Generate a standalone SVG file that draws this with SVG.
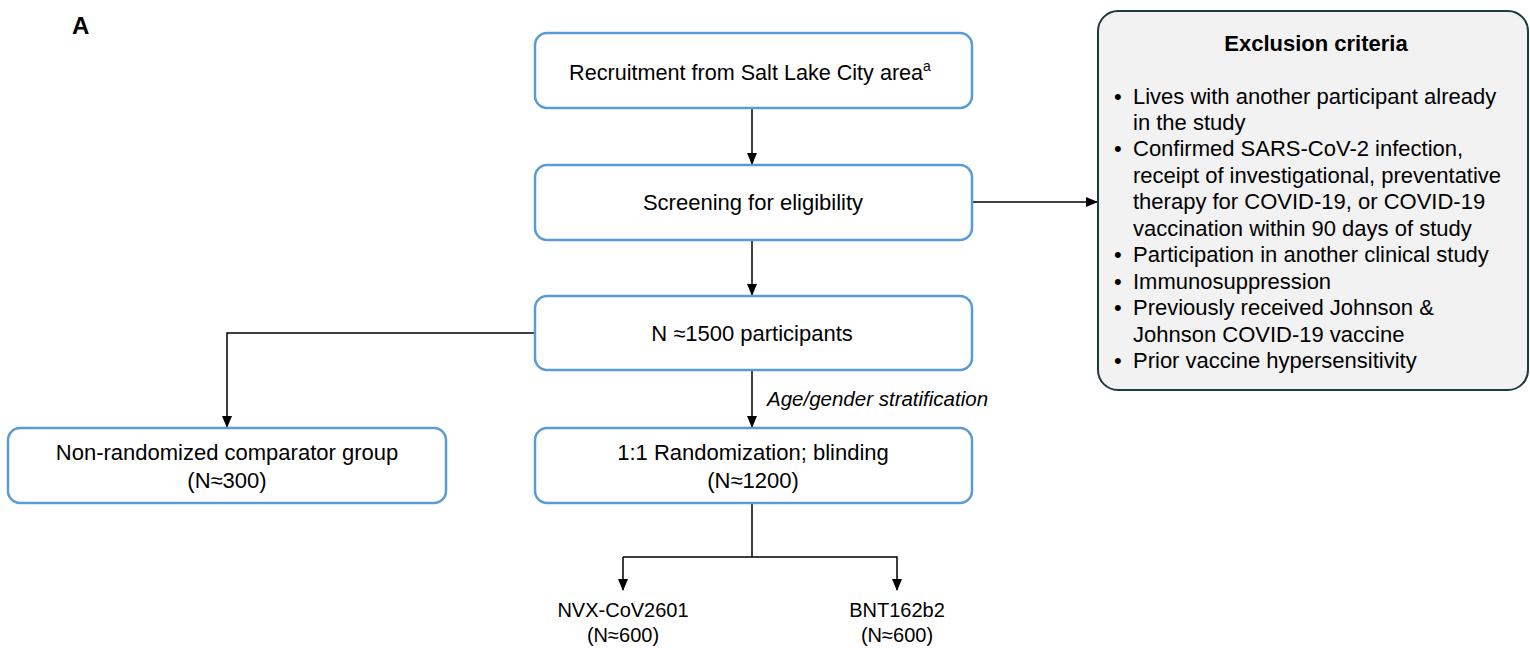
<svg xmlns="http://www.w3.org/2000/svg" width="1530" height="648" viewBox="0 0 1530 648">
<style>
text{font-family:"Liberation Sans",Arial,sans-serif;fill:#000;font-size:22px}
.box{fill:#fff;stroke:#5B9BD5;stroke-width:2.5}
.c{text-anchor:middle}
.ln{fill:none;stroke:#000;stroke-width:1.5}
.sm{font-size:20px}
</style>
<defs>
<marker id="ah" markerWidth="12" markerHeight="12" refX="11" refY="6" orient="auto" markerUnits="userSpaceOnUse">
<path d="M0,1 L12,6 L0,11 z" fill="#000"/>
</marker>
</defs>
<rect width="1530" height="648" fill="#fff"/>
<text x="72" y="34" style="font-weight:bold;font-size:24px">A</text>
<g id="connectors">
<line class="ln" x1="752" y1="108" x2="752" y2="164" marker-end="url(#ah)"/>
<line class="ln" x1="752" y1="240" x2="752" y2="295" marker-end="url(#ah)"/>
<line class="ln" x1="972" y1="202" x2="1097" y2="202" marker-end="url(#ah)"/>
<polyline class="ln" points="535,333 227,333 227,427" marker-end="url(#ah)"/>
<line class="ln" x1="752" y1="370" x2="752" y2="427" marker-end="url(#ah)"/>
<polyline class="ln" points="752,503 752,557"/>
<polyline class="ln" points="623,557 897,557 897,590" marker-end="url(#ah)"/>
<line class="ln" x1="623" y1="557" x2="623" y2="590" marker-end="url(#ah)"/>
<text x="767" y="406" style="font-style:italic;font-size:20.5px">Age/gender stratification</text>
</g>
<g id="recruit">
<rect class="box" x="535" y="33" width="437" height="75" rx="12"/>
<text class="c" x="750" y="80" style="font-size:21.6px">Recruitment from Salt Lake City area<tspan dy="-9" style="font-size:14px">a</tspan></text>
</g>
<g id="screening">
<rect class="box" x="535" y="165" width="437" height="75" rx="12"/>
<text class="c" x="753" y="210">Screening for eligibility</text>
</g>
<g id="participants">
<rect class="box" x="535" y="296" width="437" height="74" rx="12"/>
<text class="c" x="752" y="341">N ≈1500 participants</text>
</g>
<g id="nonrandom">
<rect class="box" x="8" y="428" width="438" height="75" rx="12"/>
<text class="c" x="227" y="460">Non-randomized comparator group</text>
<text class="c" x="227" y="488">(N≈300)</text>
</g>
<g id="random">
<rect class="box" x="535" y="428" width="437" height="75" rx="12"/>
<text class="c" x="753" y="460">1:1 Randomization; blinding</text>
<text class="c" x="753" y="488">(N≈1200)</text>
</g>
<g id="nvx">
<text class="c sm" x="623" y="617">NVX-CoV2601</text>
<text class="c sm" x="623" y="642">(N≈600)</text>
</g>
<g id="bnt">
<text class="c sm" x="897" y="617">BNT162b2</text>
<text class="c sm" x="897" y="642">(N≈600)</text>
</g>
<g id="exclusion">
<rect x="1098" y="11" width="430" height="379" rx="20" fill="#F2F2F2" stroke="#1F3A3D" stroke-width="2"/>
<text class="c" x="1316" y="51" style="font-weight:bold">Exclusion criteria</text>
<g>
<text x="1114" y="104">•</text><text x="1133" y="104">Lives with another participant already</text>
<text x="1133" y="130">in the study</text>
<text x="1114" y="156">•</text><text x="1133" y="156">Confirmed SARS-CoV-2 infection,</text>
<text x="1133" y="183">receipt of investigational, preventative</text>
<text x="1133" y="209">therapy for COVID-19, or COVID-19</text>
<text x="1133" y="236">vaccination within 90 days of study</text>
<text x="1114" y="262">•</text><text x="1133" y="262">Participation in another clinical study</text>
<text x="1114" y="289">•</text><text x="1133" y="289">Immunosuppression</text>
<text x="1114" y="315">•</text><text x="1133" y="315">Previously received Johnson &amp;</text>
<text x="1133" y="342">Johnson COVID-19 vaccine</text>
<text x="1114" y="368">•</text><text x="1133" y="368">Prior vaccine hypersensitivity</text>
</g>
</g>
</svg>
